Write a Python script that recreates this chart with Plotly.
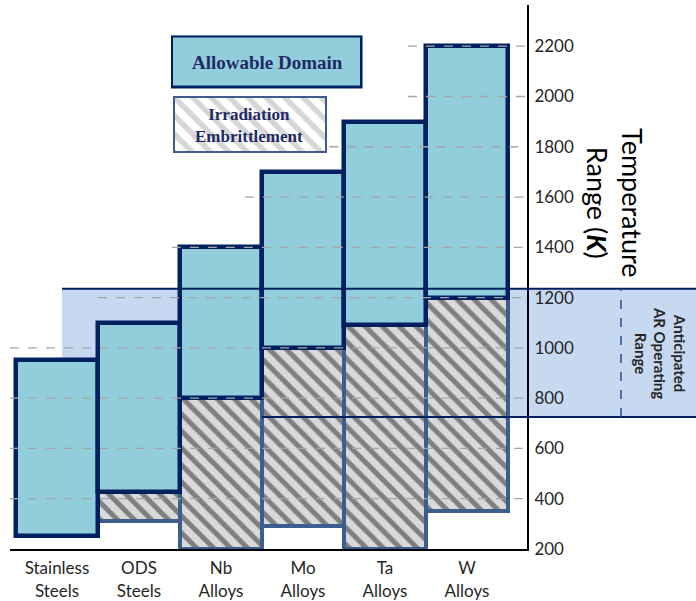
import plotly.graph_objects as go

# ---------------- data ----------------
categories = ["Stainless<br>Steels", "ODS<br>Steels", "Nb<br>Alloys", "Mo<br>Alloys", "Ta<br>Alloys", "W<br>Alloys"]
allow_low = [250, 425, 800, 1000, 1090, 1200]
allow_high = [950, 1100, 1400, 1700, 1900, 2200]
embr_low = [None, 310, 200, 290, 200, 350]
embr_high = [None, 425, 800, 1000, 1090, 1200]
operating_range = [725, 1235]
y_ticks = [200, 400, 600, 800, 1000, 1200, 1400, 1600, 1800, 2000, 2200]

# ---------------- layout helpers (pixel geometry) ----------------
W, H = 696, 601
ML, MR, MT, MB = 10, 169, 5, 52
PW, PH = W - ML - MR, H - MT - MB
X_RANGE = [-0.573, 5.732]
Y_RANGE = [200, 200 + PH / 0.2514]


def px2x(px):
    return (px - ML) / PW


def py2y(py):
    return (H - MB - py) / PH


def cat2paper(c):
    return (c - X_RANGE[0]) / (X_RANGE[1] - X_RANGE[0])


NAVY = "#002060"
STEEL = "#3b5e8c"
FILL = "#92cddc"
FONT = "Lato"

fig = go.Figure()

xs = list(range(len(categories)))

# irradiation embrittlement bars (hatched)
fig.add_trace(go.Bar(
    x=xs,
    base=[lo if lo is not None else None for lo in embr_low],
    y=[(hi - lo) if lo is not None else None for lo, hi in zip(embr_low, embr_high)],
    width=1,
    marker=dict(
        color="#d9d9d9",
        pattern=dict(shape="\\", fgcolor="#7f7f7f", bgcolor="#d9d9d9", size=12, solidity=0.42),
        line=dict(color=STEEL, width=4),
    ),
    showlegend=False, hoverinfo="skip",
))

# allowable domain bars
fig.add_trace(go.Bar(
    x=xs,
    base=allow_low,
    y=[hi - lo for lo, hi in zip(allow_low, allow_high)],
    width=1,
    marker=dict(color=FILL, line=dict(color=NAVY, width=4.5)),
    showlegend=False, hoverinfo="skip",
))

# legend boxes drawn as bars in small subplots
fig.add_trace(go.Bar(
    x=[0], y=[1], base=[0], width=1, xaxis="x2", yaxis="y2", cliponaxis=False,
    marker=dict(color=FILL, line=dict(color=NAVY, width=5)),
    showlegend=False, hoverinfo="skip",
))
fig.add_trace(go.Bar(
    x=[0], y=[1], base=[0], width=1, xaxis="x3", yaxis="y3", cliponaxis=False,
    marker=dict(
        color="white",
        pattern=dict(shape="\\", fgcolor="#d6d6d6", bgcolor="white", size=13, solidity=0.42),
        line=dict(color=STEEL, width=4),
    ),
    showlegend=False, hoverinfo="skip",
))

shapes = []
# operating range band
band_x0 = px2x(62)
band_x1 = px2x(W + 5)
shapes.append(dict(type="rect", layer="below", xref="paper", yref="y",
                   x0=band_x0, x1=band_x1, y0=operating_range[0], y1=operating_range[1],
                   fillcolor="#c6d9f0", line=dict(width=0)))
shapes.append(dict(type="line", layer="above", xref="paper", yref="y",
                   x0=band_x0, x1=band_x1, y0=operating_range[1], y1=operating_range[1],
                   line=dict(color=NAVY, width=2)))
shapes.append(dict(type="line", layer="above", xref="paper", yref="y",
                   x0=cat2paper(2.5), x1=band_x1, y0=operating_range[0], y1=operating_range[0],
                   line=dict(color=NAVY, width=2)))
shapes.append(dict(type="line", layer="above", xref="paper", yref="y",
                   x0=px2x(621), x1=px2x(621), y0=operating_range[0], y1=operating_range[1],
                   line=dict(color="#2e4a8c", width=1.5, dash="dash")))

# dashed gridlines (start positions in category units)
grid_start = {400: X_RANGE[0], 600: X_RANGE[0], 800: X_RANGE[0], 1000: X_RANGE[0],
              1200: 0.5, 1400: 1.40, 1600: 2.29, 1800: 3.32, 2000: 4.28, 2200: 4.28}
for t in y_ticks[1:]:
    shapes.append(dict(type="line", layer="above", xref="x", yref="y",
                       x0=grid_start[t], x1=X_RANGE[1], y0=t, y1=t,
                       line=dict(color="#a6a6a6", width=1.3, dash="dash")))

annotations = [
    dict(text="Temperature<br>Range (<b><i>K</i></b>)", textangle=90, xref="paper", yref="paper",
         x=px2x(615), y=py2y(203), xanchor="center", yanchor="middle", showarrow=False,
         font=dict(family=FONT, size=27, color="#000000")),
    dict(text="<b>Anticipated<br>AR Operating<br>Range</b>", textangle=90, xref="paper", yref="y",
         x=px2x(660), y=sum(operating_range) / 2, xanchor="center", yanchor="middle", showarrow=False,
         font=dict(family=FONT, size=15, color="#262626")),
    dict(text="<b>Allowable Domain</b>", xref="paper", yref="paper",
         x=px2x(267), y=py2y(63), xanchor="center", yanchor="middle", showarrow=False,
         font=dict(family="Liberation Serif", size=19, color="#1f2a66")),
    dict(text="<b>Irradiation<br>Embrittlement</b>", xref="paper", yref="paper",
         x=px2x(249), y=py2y(125.5), xanchor="center", yanchor="middle", showarrow=False,
         font=dict(family="Liberation Serif", size=17, color="#1f2a66")),
]

fig.update_layout(
    template="none",
    width=W, height=H,
    margin=dict(l=ML, r=MR, t=MT, b=MB, autoexpand=False),
    plot_bgcolor="white", paper_bgcolor="white",
    barmode="overlay", bargap=0,
    showlegend=False,
    shapes=shapes,
    annotations=annotations,
    xaxis=dict(range=X_RANGE, tickmode="array", tickvals=xs, ticktext=categories, automargin=False,
               showline=True, linecolor="black", linewidth=2, showgrid=False, zeroline=False,
               ticks="", ticklabelstandoff=3,
               tickfont=dict(family=FONT, size=17, color="#262626"), fixedrange=True),
    yaxis=dict(range=Y_RANGE, side="right", tickmode="array", tickvals=y_ticks, automargin=False,
               showline=True, linecolor="black", linewidth=2, showgrid=False, zeroline=False,
               ticks="", ticklabelstandoff=2,
               tickfont=dict(family=FONT, size=17, color="#262626"), fixedrange=True),
    xaxis2=dict(domain=[px2x(171), px2x(362.5)], range=[-0.5, 0.5], visible=False, anchor="y2", fixedrange=True),
    yaxis2=dict(domain=[py2y(88.5), py2y(35.5)], range=[0, 1], visible=False, anchor="x2", fixedrange=True),
    xaxis3=dict(domain=[px2x(173), px2x(327)], range=[-0.5, 0.5], visible=False, anchor="y3", fixedrange=True),
    yaxis3=dict(domain=[py2y(153), py2y(96)], range=[0, 1], visible=False, anchor="x3", fixedrange=True),
)

fig.write_html("out.html", config={"displayModeBar": False},
               post_script="document.body.style.margin='0px';document.body.style.overflow='hidden';")
